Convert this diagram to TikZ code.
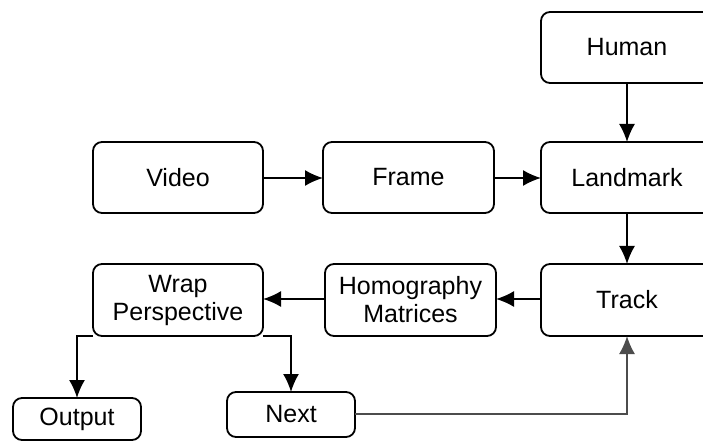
\documentclass[tikz,border=0pt]{standalone}
\usepackage{fontspec}
\setmainfont{Liberation Sans}
\usetikzlibrary{arrows.meta}
\begin{document}
\begin{tikzpicture}[x=1pt,y=-1pt,
  box/.style={draw=black,line width=1.8pt,rounded corners=9pt,fill=white},
  lbl/.style={font=\fontsize{25}{29}\selectfont,align=center,inner sep=0pt},
  conn/.style={line width=1.8pt,-{Latex[length=18pt,width=16pt]}},
  link/.style={conn,draw=black!70}]
\clip (0,0) rectangle (703,443);
\fill[white] (0,0) rectangle (703,443);
% process boxes
\draw[box] (541,12) rectangle (713,83);  \node[lbl] (human) at (627,47.5) {Human};
\draw[box] (93,142) rectangle (263,213); \node[lbl] (video) at (178,177.5) {Video};
\draw[box] (323,142) rectangle (494,213); \node[lbl] (frame) at (408.5,177.5) {Frame};
\draw[box] (541,142) rectangle (713,213); \node[lbl] (landmark) at (627,177.5) {Landmark};
\draw[box] (541,264) rectangle (713,336); \node[lbl] (track) at (627,300) {Track};
\draw[box] (325,264) rectangle (496,336); \node[lbl] (homo) at (410.5,300) {Homography\\[-1pt]Matrices};
\draw[box] (93,264) rectangle (263,336); \node[lbl] (wrap) at (178,300) {Wrap\\[-1pt]Perspective};
\draw[box] (13,398) rectangle (141,440); \node[lbl] (output) at (77,419) {Output};
\draw[box] (227,392) rectangle (355,437); \node[lbl] (next) at (291,414.5) {Next};
% box border anchors
\coordinate (videoE) at (263,178);   \coordinate (frameW) at (323,178);
\coordinate (frameE) at (494,178);   \coordinate (landW) at (541,178);
\coordinate (humanS) at (627,83);    \coordinate (landN) at (627,142);
\coordinate (landS) at (627,213);    \coordinate (trackN) at (627,264);
\coordinate (trackW) at (541,299);   \coordinate (homoE) at (496,299);
\coordinate (homoW) at (325,299);    \coordinate (wrapE) at (263,299);
\coordinate (wrapSW) at (93,336);    \coordinate (outN) at (77,398);
\coordinate (wrapSE) at (263,336);   \coordinate (nextN) at (291,392);
\coordinate (nextE) at (355,414);    \coordinate (trackS) at (627,336);
% connectors
\draw[conn] (videoE) -- (frameW);
\draw[conn] (frameE) -- (landW);
\draw[conn] (humanS) -- (landN);
\draw[conn] (landS) -- (trackN);
\draw[conn] (trackW) -- (homoE);
\draw[conn] (homoW) -- (wrapE);
\draw[conn] (wrapSW) -| (outN);
\draw[conn] (wrapSE) -| (nextN);
\draw[link] (nextE) -| (trackS);
\end{tikzpicture}
\end{document}
